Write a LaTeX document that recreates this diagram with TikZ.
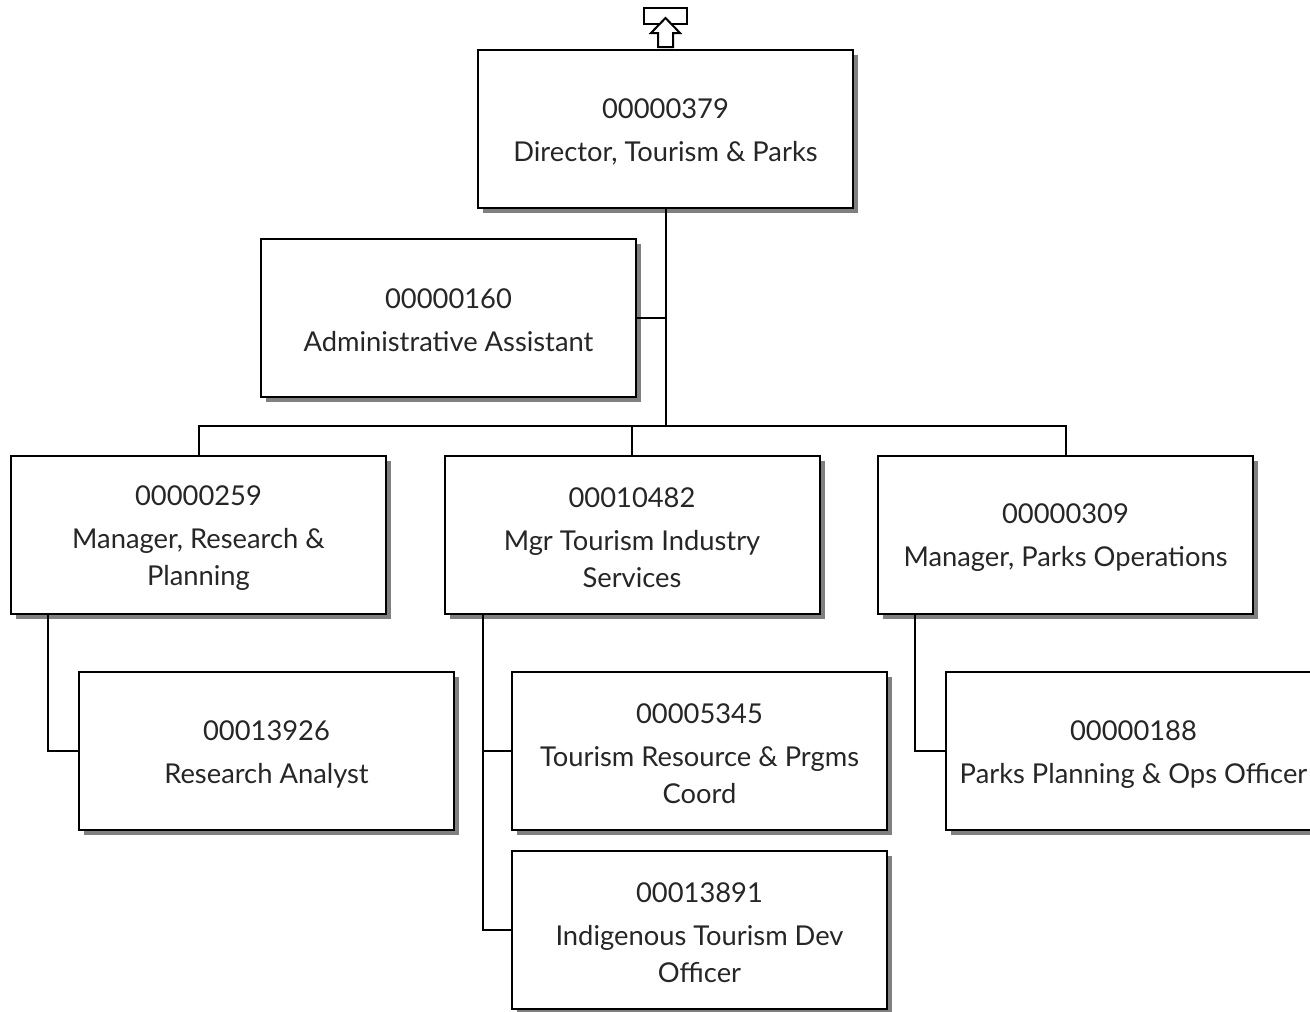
\documentclass[tikz,border=0pt]{standalone}
\usepackage{fontspec}
\setmainfont{Lato}
\usetikzlibrary{shadows}
\newcommand{\toppad}{\rule{0pt}{19.5pt}}
\tikzset{
  orgbox/.style={draw=black, line width=1.5pt, fill=white, rectangle,
    minimum width=281.25pt, minimum height=118.5pt, inner sep=0pt,
    align=center, text=black!85,
    font=\fontsize{20.5pt}{27.75pt}\selectfont,
    drop shadow={shadow xshift=4pt, shadow yshift=-4pt, fill=black!50, opacity=1}},
  conn/.style={draw=black, line width=1.5pt},
}
\begin{document}
\begin{tikzpicture}[x=0.75pt,y=-0.75pt]
\useasboundingbox (0,0) rectangle (1310,1011);
% nodes
\node[orgbox] (dir) at (665.5,128.5) {\toppad 00000379\\[4.5pt]Director, Tourism \& Parks};
\node[orgbox] (adm) at (448.5,317.5) {\toppad 00000160\\[4.5pt]Administrative Assistant};
\node[orgbox] (mr) at (198.5,534.5) {\toppad 00000259\\[4.5pt]Manager, Research \&\\Planning};
\node[orgbox] (mt) at (632,534.5) {\toppad 00010482\\[4.5pt]Mgr Tourism Industry\\Services};
\node[orgbox] (mp) at (1065.5,534.5) {\toppad 00000309\\[4.5pt]Manager, Parks Operations};
\node[orgbox] (ra) at (266.5,751) {\toppad 00013926\\[4.5pt]Research Analyst};
\node[orgbox] (tr) at (699.5,751) {\toppad 00005345\\[4.5pt]Tourism Resource \& Prgms\\Coord};
\node[orgbox] (ind) at (699.5,929.5) {\toppad 00013891\\[4.5pt]Indigenous Tourism Dev\\Officer};
\node[orgbox] (pp) at (1133.5,751) {\toppad 00000188\\[4.5pt]Parks Planning \& Ops Officer};
% bus
\coordinate (bus) at (0,426);
% connectors
\draw[conn] (dir.south) -- (dir.south |- bus);
\draw[conn] (adm.east) -- (adm.east -| dir.south);
\draw[conn] (mr.north) -- (mr.north |- bus) -- (mp.north |- bus) -- (mp.north);
\draw[conn] (mt.north) -- (mt.north |- bus);
\draw[conn] ([xshift=28.125pt]mr.south west) |- (ra.west);
\draw[conn] ([xshift=29.25pt]mt.south west) |- (ind.west);
\coordinate (mtv) at ([xshift=29.25pt]mt.south west);
\draw[conn] (tr.west) -- (tr.west -| mtv);
\draw[conn] ([xshift=28.5pt]mp.south west) |- (pp.west);
% top icon
\node[draw=black, line width=1.5pt, fill=white, minimum width=32pt, minimum height=12pt, inner sep=0pt] (icon) at (665.5,15.5) {};
\draw[line width=1.5pt, fill=white, line join=miter] (658,47) -- (658,33) -- (651,33) -- (665.5,18) -- (680,33) -- (673,33) -- (673,47) -- cycle;
\end{tikzpicture}
\end{document}
